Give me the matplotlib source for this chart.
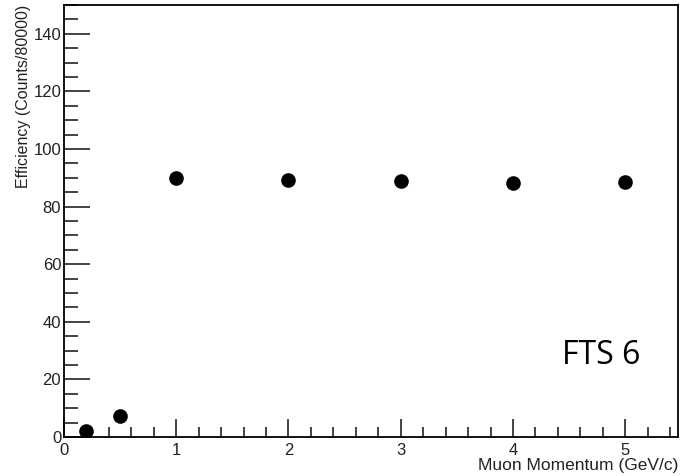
import matplotlib
matplotlib.use("Agg")
import matplotlib.pyplot as plt
from matplotlib.ticker import MultipleLocator

momentum = [0.2, 0.5, 1, 2, 3, 4, 5]
efficiency = [2.1, 7.3, 90.0, 89.3, 88.9, 88.2, 88.5]

plt.rcParams["font.family"] = ["Liberation Sans", "DejaVu Sans"]

fig = plt.figure(figsize=(6.83, 4.76), dpi=100)
ax = fig.add_axes([64 / 683, 1 - 437 / 476, 614 / 683, 432 / 476])

ax.plot(momentum, efficiency, "o", color="black", markersize=9.5)

ax.set_xlim(0, 5.47)
ax.set_ylim(0, 150)
ax.xaxis.set_major_locator(MultipleLocator(1))
ax.xaxis.set_minor_locator(MultipleLocator(0.2))
ax.yaxis.set_major_locator(MultipleLocator(20))
ax.yaxis.set_minor_locator(MultipleLocator(5))
ax.tick_params(which="both", direction="in", top=False, right=False,
               labelsize=12, width=1.2, color="#222222", labelcolor="#222222")
ax.tick_params(axis="x", which="major", length=13, pad=4)
ax.tick_params(axis="x", which="minor", length=7)
ax.tick_params(axis="y", which="major", length=19, pad=2)
ax.tick_params(axis="y", which="minor", length=10)
for s in ax.spines.values():
    s.set_linewidth(1.3)

ax.set_xlabel("Muon Momentum (GeV/c)", fontsize=12.5, loc="right", labelpad=0.5,
              color="#222222")
ax.set_ylabel("Efficiency (Counts/80000)", fontsize=11.5, loc="top", labelpad=2,
              color="#222222")

ax.text(601, 476 - 356, "FTS 6", transform=None, fontsize=23,
        family=["Open Sans", "DejaVu Sans"], ha="center", va="center")

fig.savefig("out.png", dpi=100)
